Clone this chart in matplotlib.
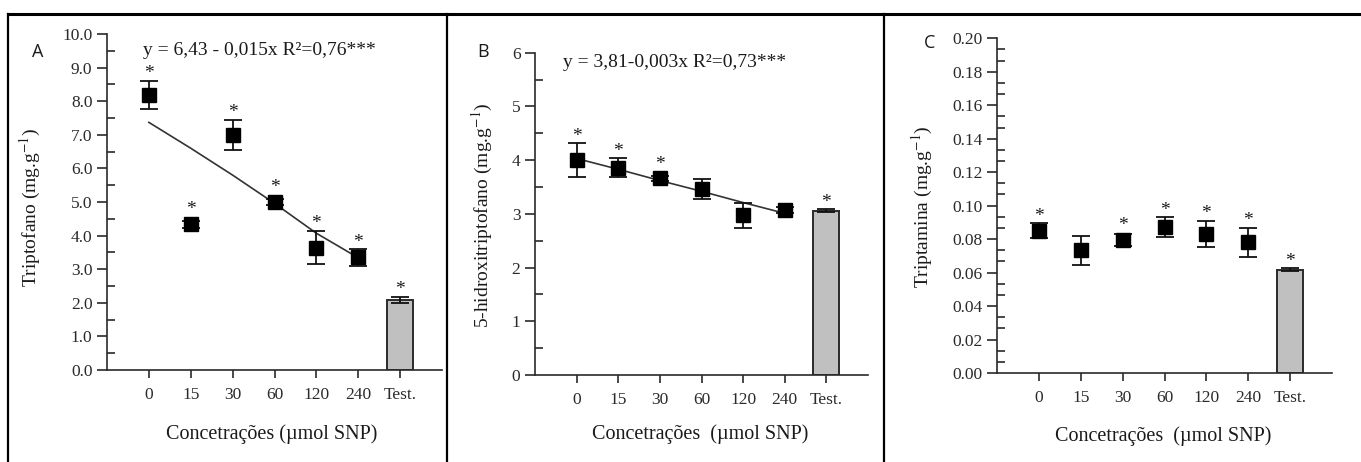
import matplotlib
matplotlib.use('Agg')
import matplotlib.pyplot as plt
from matplotlib.ticker import AutoMinorLocator, FormatStrFormatter, MultipleLocator
from matplotlib.lines import Line2D

plt.rcParams['font.family'] = ['Liberation Serif', 'DejaVu Serif']
plt.rcParams['mathtext.fontset'] = 'stix'
plt.rcParams['text.color'] = '#1a1a1a'
plt.rcParams['axes.edgecolor'] = '#2a2a2a'
plt.rcParams['xtick.color'] = '#2a2a2a'
plt.rcParams['ytick.color'] = '#2a2a2a'

# ---- data ----
categories = ['0', '15', '30', '60', '120', '240', 'Test.']

trip_mean = [8.19, 4.34, 7.00, 5.00, 3.64, 3.35]
trip_err = [0.42, 0.10, 0.45, 0.10, 0.50, 0.25]
trip_test = 2.09
trip_test_err = 0.09
trip_stars = [True, True, True, True, True, True, True]
trip_fit = [7.37, 6.60, 5.80, 4.96, 4.07, 3.34]

hid_mean = [4.00, 3.86, 3.66, 3.46, 2.97, 3.07]
hid_err = [0.31, 0.18, 0.05, 0.18, 0.24, 0.05]
hid_test = 3.06
hid_test_err = 0.03
hid_stars = [True, True, True, False, False, False, True]
hid_fit = [4.03, 3.83, 3.62, 3.42, 3.21, 3.01]

trp_mean = [0.0850, 0.0732, 0.0796, 0.0870, 0.0830, 0.0782]
trp_err = [0.0045, 0.0087, 0.0037, 0.0060, 0.0080, 0.0086]
trp_test = 0.0617
trp_test_err = 0.0010
trp_stars = [True, False, True, True, True, True, True]

W, H = 1361, 462
DPI = 100
fig = plt.figure(figsize=(W / DPI, H / DPI), dpi=DPI)


def px_axes(left, right, top, bottom):
    # pixel box -> figure fraction
    return [left / W, 1 - bottom / H, (right - left) / W, (bottom - top) / H]


def draw_panel(ax, means, errs, test, test_err, stars, ylim, major, minor_n, fmt,
               fit=None):
    x = list(range(len(means)))
    xt = len(means)
    ax.set_xlim(-1, 7)
    ax.set_ylim(*ylim)

    ax.bar(xt, test, width=0.62, color='#c0c0c0', edgecolor='#2a2a2a',
           linewidth=1.4, zorder=2)
    ax.errorbar([xt], [test], yerr=[test_err], fmt='none', ecolor='#111111',
                elinewidth=1.3, capsize=6.5, capthick=1.3, zorder=3)

    if fit is not None:
        ax.plot(list(range(len(fit))), fit, color='#333333', lw=1.2, zorder=3)

    ax.errorbar(x, means, yerr=errs, fmt='s', color='black', ms=10.5,
                ecolor='#111111', elinewidth=1.3, capsize=6.5, capthick=1.3,
                zorder=4)

    # asterisks above each point
    px_per_unit = ax.bbox.height / (ylim[1] - ylim[0])
    tops = list(zip(x + [xt], means + [test], errs + [test_err]))
    for (xi, m, e), s in zip(tops, stars):
        if not s:
            continue
        e_pt = e * px_per_unit * 72 / DPI
        half = 5.3 if xi < xt else 0
        off = max(e_pt, half) + 5
        ax.annotate('*', xy=(xi, m), xytext=(0, off), textcoords='offset points',
                    ha='center', va='center', fontsize=14, zorder=5)

    for sp in ['top', 'right']:
        ax.spines[sp].set_visible(False)
    for sp in ['left', 'bottom']:
        ax.spines[sp].set_linewidth(1.2)

    ax.set_xticks(range(7))
    ax.set_xticklabels(categories)
    ax.yaxis.set_major_locator(MultipleLocator(major))
    ax.yaxis.set_minor_locator(AutoMinorLocator(minor_n))
    ax.yaxis.set_major_formatter(FormatStrFormatter(fmt))
    ax.tick_params(axis='x', which='major', direction='out', length=6,
                   width=1.2, pad=6, labelsize=12.5)
    ax.tick_params(axis='y', which='major', direction='out', length=7,
                   width=1.2, pad=3.5, labelsize=12.5)
    ax.tick_params(axis='y', which='minor', direction='in', length=6, width=1.2)
    return ax


# Panel A
axA = fig.add_axes(px_axes(107, 442, 34, 370))
draw_panel(axA, trip_mean, trip_err, trip_test, trip_test_err, trip_stars,
           (0, 10), 1.0, 2, '%.1f', fit=trip_fit)
axA.text(0.107, 0.952, 'y = 6,43 - 0,015x R²=0,76***', transform=axA.transAxes,
         ha='left', va='center', fontsize=14)

# Panel B
axB = fig.add_axes(px_axes(535, 868, 52.7, 375))
draw_panel(axB, hid_mean, hid_err, hid_test, hid_test_err, hid_stars,
           (0, 6), 1, 2, '%d', fit=hid_fit)
axB.text(0.084, 0.971, 'y = 3,81-0,003x R²=0,73***', transform=axB.transAxes,
         ha='left', va='center', fontsize=14)

# Panel C
axC = fig.add_axes(px_axes(997, 1332, 38.3, 373))
draw_panel(axC, trp_mean, trp_err, trp_test, trp_test_err, trp_stars,
           (0, 0.20), 0.02, 3, '%.2f')


# axis labels (placed in pixel positions)
def ftext(xp, yp, s, **kw):
    fig.text(xp / W, 1 - yp / H, s, **kw)


ftext(30, 207, 'Triptofano (mg.g$^{-1}$)', rotation=90, ha='center', va='center', fontsize=14)
ftext(482, 215, '5-hidroxitriptofano (mg.g$^{-1}$)', rotation=90, ha='center', va='center', fontsize=14)
ftext(922, 207, 'Triptamina (mg.g$^{-1}$)', rotation=90, ha='center', va='center', fontsize=14)

ftext(272, 434, 'Concetrações (µmol SNP)', ha='center', va='center', fontsize=14.5)
ftext(700, 434, 'Concetrações  (µmol SNP)', ha='center', va='center', fontsize=14.5)
ftext(1163, 436, 'Concetrações  (µmol SNP)', ha='center', va='center', fontsize=14.5)

# panel letters
for xp, yp, s in [(38, 52, 'A'), (483, 52, 'B'), (930, 43, 'C')]:
    ftext(xp, yp, s, ha='center', va='center', fontsize=13,
          family=['Open Sans', 'DejaVu Sans'])

# frame lines around the panels
fig.add_artist(Line2D([8 / W, 1], [1 - 14 / H] * 2, color='black', lw=2.2,
                      transform=fig.transFigure))
for xp in [8, 447, 884]:
    fig.add_artist(Line2D([xp / W] * 2, [1 - 14 / H, 0], color='black', lw=1.6,
                          transform=fig.transFigure))

fig.savefig('out.png', dpi=DPI)
